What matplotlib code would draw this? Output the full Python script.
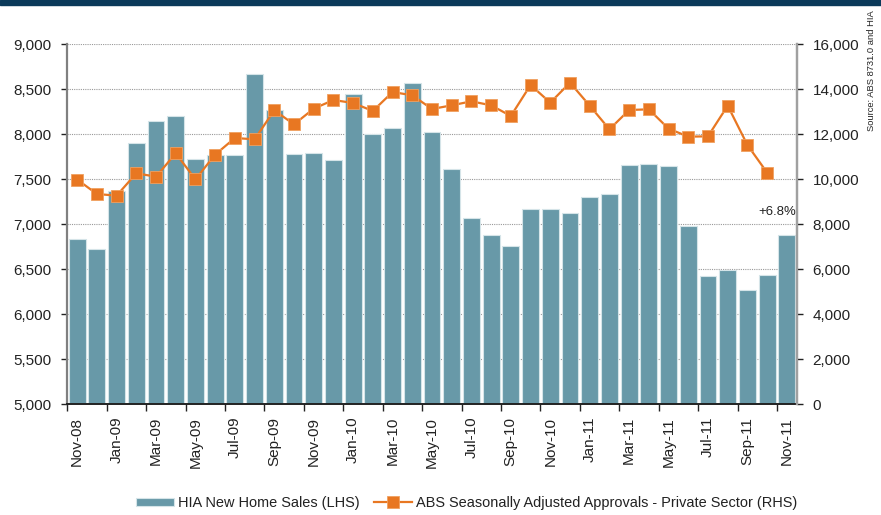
import numpy as np
import matplotlib
matplotlib.use('Agg')
import matplotlib.pyplot as plt
from matplotlib import font_manager
from matplotlib.ticker import FuncFormatter, FixedLocator
from matplotlib.patches import Rectangle

names = {f.name for f in font_manager.fontManager.ttflist}
if 'Liberation Sans Narrow' in names:
    narrow, nscale = 'Liberation Sans Narrow', 1.0
else:
    narrow, nscale = 'Liberation Sans', 0.82
plt.rcParams['font.family'] = ['Liberation Sans', 'DejaVu Sans']

months = ['Nov-08', 'Dec-08', 'Jan-09', 'Feb-09', 'Mar-09', 'Apr-09', 'May-09', 'Jun-09',
          'Jul-09', 'Aug-09', 'Sep-09', 'Oct-09', 'Nov-09', 'Dec-09', 'Jan-10', 'Feb-10',
          'Mar-10', 'Apr-10', 'May-10', 'Jun-10', 'Jul-10', 'Aug-10', 'Sep-10', 'Oct-10',
          'Nov-10', 'Dec-10', 'Jan-11', 'Feb-11', 'Mar-11', 'Apr-11', 'May-11', 'Jun-11',
          'Jul-11', 'Aug-11', 'Sep-11', 'Oct-11', 'Nov-11']
hia_sales = [6840, 6730, 7370, 7903, 8151, 8200, 7729, 7770, 7774, 8666, 8270, 7777,
             7792, 7714, 8448, 8003, 8074, 8574, 8024, 7611, 7066, 6881, 6763, 7174,
             7166, 7126, 7303, 7340, 7655, 7670, 7651, 6981, 6426, 6496, 6266, 6437, 6877]
abs_approvals = [9990, 9347, 9273, 10265, 10117, 11154, 9999, 11095, 11836, 11776, 13065,
                 12443, 13139, 13524, 13391, 13036, 13880, 13732, 13124, 13288, 13465,
                 13288, 12813, 14191, 13406, 14295, 13272, 12221, 13080, 13110, 12250,
                 11895, 11910, 13272, 11524, 10295]
label_lhs = 'HIA New Home Sales (LHS)'
label_rhs = 'ABS Seasonally Adjusted Approvals - Private Sector (RHS)'

bar_col = '#6899a8'
line_col = '#e87722'
txt_col = '#222222'

fig = plt.figure(figsize=(8.81, 5.15), dpi=100)
fig.patches.append(Rectangle((0, 1 - 5 / 515), 1, 5 / 515, transform=fig.transFigure,
                             color='#0b3a5a', zorder=0))
ax = fig.add_axes([67.3 / 881, 1 - 404.3 / 515, (796.7 - 67.3) / 881, 360 / 515])
x = np.arange(len(months))
bars = ax.bar(x, hia_sales, width=0.85, color=bar_col, edgecolor='#d5e4e8', linewidth=0.8,
              label=label_lhs)
ax.set_xlim(-0.5, len(months) - 0.5)
ax.set_ylim(5000, 9000)
ax.set_yticks(np.arange(5000, 9001, 500))
ax.yaxis.set_major_formatter(FuncFormatter(lambda v, p: f'{int(v):,}'))
ax.grid(axis='y', linestyle=(0, (1, 1)), color='#999999', linewidth=0.8)
ax.set_axisbelow(True)

# ticks sit on the bar edges, labels on every second bar centre
ax.xaxis.set_major_locator(FixedLocator(np.arange(-0.5, len(months) - 1, 2)))
ax.xaxis.set_minor_locator(FixedLocator(x[::2]))
ax.set_xticklabels([], minor=False)
ax.set_xticklabels(months[::2], minor=True, rotation=90, fontsize=11, color=txt_col)
ax.tick_params(axis='x', which='major', length=5, width=1, color='#222222', direction='out')
ax.tick_params(axis='x', which='minor', length=0, pad=9)
ax.tick_params(axis='y', length=4.5, width=1, color='#222222', labelsize=11,
               labelcolor=txt_col, pad=7)

ax.spines['top'].set_visible(False)
ax.spines['left'].set_color('#808080')
ax.spines['left'].set_linewidth(1.6)
ax.spines['right'].set_color('#a0a0a0')
ax.spines['right'].set_linewidth(1.6)
ax.spines['bottom'].set_color('#222222')
ax.spines['bottom'].set_linewidth(1.4)

ax2 = ax.twinx()
line, = ax2.plot(x[:len(abs_approvals)], abs_approvals, color=line_col, linewidth=1.6,
                 marker='s', markersize=8, markeredgecolor='#f0a060', markeredgewidth=0.6,
                 label=label_rhs)
ax2.set_ylim(0, 16000)
ax2.set_yticks(np.arange(0, 16001, 2000))
ax2.yaxis.set_major_formatter(FuncFormatter(lambda v, p: f'{int(v):,}'))
ax2.tick_params(axis='y', length=4.5, width=1, color='#222222', labelsize=11,
                labelcolor=txt_col, pad=7)
for s in ['top', 'left', 'bottom']:
    ax2.spines[s].set_visible(False)
ax2.spines['right'].set_color('#a0a0a0')
ax2.spines['right'].set_linewidth(1.6)

ax.text(len(months) - 0.55, 7140, '+6.8%', ha='right', va='center', color=txt_col,
        family=narrow, fontsize=11.5 * nscale)

fig.text(872 / 881, 1 - 10 / 515, 'Source: ABS 8731.0 and HIA', rotation=90, ha='center',
         va='top', color=txt_col, family=narrow, fontsize=8.2 * nscale)

fs = 12.7 * nscale
em = fs * 100 / 72
fig.legend([bars, line], [label_lhs, label_rhs], loc='center',
           bbox_to_anchor=(466.5 / 881, 1 - 503 / 515), ncol=2, frameon=False,
           prop={'family': narrow, 'size': fs}, handlelength=38 / em,
           handletextpad=4 / em, columnspacing=14.6 / em, handleheight=0.5,
           labelcolor=txt_col)

fig.savefig('out.png', dpi=100)
